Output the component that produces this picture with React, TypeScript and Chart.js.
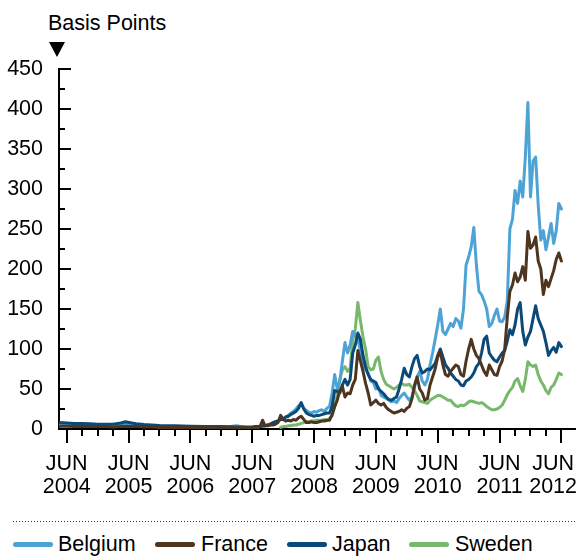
import { useEffect, useRef } from "react";
import { Chart, registerables } from "chart.js";

Chart.register(...registerables);

const FONT = '"Liberation Sans", Arial, Helvetica, sans-serif';
const FONT_SIZE = 21.5;

// Observation dates in decimal years: sparse through the quiet years, then twice a month from mid-2007.
const earlyDates = [
  2004.375, 2004.5, 2004.625, 2004.75, 2004.875, 2005.0, 2005.125, 2005.25, 2005.375, 2005.45, 2005.55,
  2005.625, 2005.75, 2005.875, 2006.0, 2006.25, 2006.5, 2006.75, 2007.0, 2007.25, 2007.4,
];
const halfMonthDates = Array.from({ length: 121 }, (_, k) => 2007.5 + k / 24);
const dates = [...earlyDates, ...halfMonthDates];

// Spreads in basis points, one value per date.
const belgium = [
  6, 6, 5.5, 5, 5, 4.5, 4.5, 4.5, 5.5, 7, 6, 5, 4.5, 4, 3.5, 3, 2.5, 2.5, 2, 4, 2,
  2, 2.5, 2, 3, 3, 4, 5, 6, 7, 9,
  10, 12, 13, 15, 17, 20, 22, 25, 29, 32,
  26, 23, 21, 20, 22, 21, 23, 24, 22, 26,
  28, 45, 68, 50, 60, 85, 108, 95, 105, 122,
  118, 112, 98, 82, 74, 70, 60, 58, 50, 52,
  42, 40, 38, 36, 34, 35, 33, 38, 42, 45,
  40, 36, 40, 52, 65, 72, 60, 55, 62, 80,
  95, 112, 130, 150, 122, 118, 125, 132, 128, 138,
  135, 126, 150, 205, 215, 228, 252, 205, 172, 168,
  160, 150, 128, 132, 142, 150, 135, 134, 140, 160,
  250, 262, 298, 282, 310, 290, 340, 408, 290, 335,
  340, 280, 236, 248, 224, 240, 257, 232, 248, 282, 275,
];

const france = [
  3.5, 3.5, 3, 3, 3, 3, 3, 2.5, 3, 3.5, 3, 3, 2.5, 2.5, 2, 2, 2, 1.5, 1.5, 1.5, 1.5,
  1.5, 2, 2, 3, 11, 4, 4, 5, 5, 6,
  8, 17, 12, 10, 11, 10, 12, 11, 14, 16,
  12, 8, 8, 9, 8, 8, 9, 10, 10, 11,
  11, 18, 28, 36, 48, 53, 40, 45, 44, 55,
  62, 98, 85, 72, 57, 45, 30, 33, 36, 32,
  30, 32, 27, 24, 22, 20, 21, 22, 24, 22,
  26, 28, 38, 55, 65, 50, 45, 36, 38, 55,
  65, 75, 90, 97, 80, 68, 66, 72, 76, 80,
  78, 68, 66, 85, 100, 112, 100, 92, 88, 80,
  72, 67, 80, 74, 68, 67, 78, 85, 100, 140,
  172, 180, 195, 184, 190, 203, 186, 247, 226, 230,
  240, 210, 200, 168, 186, 178, 188, 198, 212, 220, 210,
];

const japan = [
  8, 7.5, 7, 7, 6.5, 6, 6, 6, 7.5, 9, 7.5, 6.5, 5.5, 5, 4.5, 4, 3.5, 3, 3, 2.5, 2.5,
  2.5, 3, 3, 3, 4, 4, 5, 6, 8, 9,
  10, 12, 12, 15, 16, 18, 20, 22, 26, 33,
  25, 20, 18, 17, 16, 17, 17, 18, 19, 20,
  20, 28, 48, 47, 45, 55, 62, 55, 62, 95,
  105, 120, 112, 92, 78, 68, 62, 60, 58, 50,
  47, 44, 40, 37, 36, 38, 40, 50, 62, 76,
  68, 65, 78, 88, 92, 78, 70, 72, 75, 74,
  78, 82, 92, 100, 90, 80, 76, 70, 66, 62,
  60, 55, 54, 60, 62, 65, 70, 78, 82, 95,
  112, 116, 95, 90, 86, 84, 90, 95, 98, 110,
  124, 118, 130, 150, 158, 122, 105, 115, 122, 138,
  154, 138, 130, 122, 108, 92, 98, 102, 96, 108, 103,
];

const sweden = [
  null, null, null, null, null, null, null, null, null, null, null,
  null, null, null, null, null, null, null, null, null, null,
  null, null, null, null, null, null, null, null, null, null,
  null, 2, 3, 3, 4, 4, 5, 5, 6, 7,
  8, 9, 9, 10, 10, 11, 11, 11, 12, 11,
  13, 16, 28, 42, 62, 74, 78, 72, 76, 110,
  125, 158, 135, 115, 100, 78, 74, 75, 86, 90,
  72, 62, 56, 54, 52, 50, 52, 55, 57, 55,
  55, 56, 52, 48, 42, 35, 34, 33, 32, 36,
  38, 40, 42, 42, 40, 38, 36, 36, 32, 29,
  28, 30, 29, 31, 34, 35, 34, 33, 32, 33,
  31, 28, 26, 24, 24, 25, 27, 30, 36, 43,
  48, 52, 60, 63, 54, 47, 62, 84, 80, 78,
  80, 68, 60, 55, 48, 44, 52, 55, 62, 70, 68,
];

const seriesNames = ["Belgium", "France", "Japan", "Sweden"];
const seriesColors = ["#4ea3d6", "#4e3520", "#0b4a78", "#77b86c"];
const seriesValues = [belgium, france, japan, sweden];
// Higher number is painted first (underneath).
const seriesLayer = [2, 0, 1, 3];

const junYears = [2004, 2005, 2006, 2007, 2008, 2009, 2010, 2011, 2012];
const xMin = 2004.375;
const xMax = 2012.72;
const yMax = 450;
const yLabelStep = 50;
const yMinorStep = 25;

const W = 579;
const CANVAS_H = 510;
const PLOT_TOP = 69;
const PLOT_BOTTOM = 429;
const PLOT_LEFT = 59;

const axisMarks = {
  id: "axisMarks",
  afterDraw(chart: any) {
    const { ctx, chartArea, scales } = chart;
    const x = scales.x;
    const y = scales.y;
    ctx.save();
    ctx.strokeStyle = "#000";
    ctx.lineWidth = 2;
    ctx.lineCap = "butt";

    // value-axis ticks point into the plot
    for (let v = 0; v <= yMax; v += yMinorStep) {
      const py = Math.round(y.getPixelForValue(v));
      const len = v % yLabelStep === 0 ? 12 : 6;
      ctx.beginPath();
      ctx.moveTo(chartArea.left, py);
      ctx.lineTo(chartArea.left + len, py);
      ctx.stroke();
    }

    // quarterly time ticks hang below the axis, longer at each June
    for (let q = 0; ; q++) {
      const t = 2004.5 + q * 0.25;
      if (t > x.max) break;
      const px = Math.round(x.getPixelForValue(t));
      const len = q % 4 === 0 ? 14 : 7;
      ctx.beginPath();
      ctx.moveTo(px, chartArea.bottom);
      ctx.lineTo(px, chartArea.bottom + len);
      ctx.stroke();
    }

    ctx.fillStyle = "#000";
    ctx.font = `${FONT_SIZE}px ${FONT}`;
    ctx.textAlign = "center";
    ctx.textBaseline = "alphabetic";
    for (const yr of junYears) {
      const px = x.getPixelForValue(yr + 0.5);
      const half = Math.max(ctx.measureText("JUN").width, ctx.measureText(String(yr)).width) / 2;
      const cx = Math.min(px, chart.width - 2 - half);
      ctx.fillText("JUN", cx, chartArea.bottom + 40.5);
      ctx.fillText(String(yr), cx, chartArea.bottom + 63.5);
    }
    ctx.restore();
  },
};

export default function App() {
  const canvasRef = useRef<HTMLCanvasElement>(null);

  useEffect(() => {
    const canvas = canvasRef.current;
    if (!canvas) return;
    const chart = new Chart(canvas, {
      type: "line",
      data: {
        datasets: seriesNames.map((name, i) => ({
          label: name,
          data: dates.map((t, j) => ({ x: t, y: seriesValues[i][j] })),
          borderColor: seriesColors[i],
          backgroundColor: seriesColors[i],
          borderWidth: 3,
          pointRadius: 0,
          tension: 0,
          fill: false,
          order: seriesLayer[i],
          borderJoinStyle: "round",
          borderCapStyle: "round",
        })),
      },
      options: {
        animation: false,
        responsive: false,
        maintainAspectRatio: false,
        layout: { padding: { top: PLOT_TOP, right: W - 575, left: 0, bottom: 0 } },
        plugins: {
          legend: { display: false },
          tooltip: { enabled: false },
        },
        scales: {
          x: {
            type: "linear",
            min: xMin,
            max: xMax,
            grid: { display: true, drawOnChartArea: false, drawTicks: false, color: "rgba(0,0,0,0)" },
            border: { display: true, color: "#000", width: 2 },
            ticks: { display: false },
            afterFit: (s: any) => {
              s.height = CANVAS_H - PLOT_BOTTOM;
              s.paddingLeft = 0;
              s.paddingRight = 0;
            },
          },
          y: {
            type: "linear",
            min: 0,
            max: yMax,
            grid: { display: true, drawOnChartArea: false, drawTicks: false, color: "rgba(0,0,0,0)" },
            border: { display: true, color: "#000", width: 2 },
            ticks: {
              stepSize: yLabelStep,
              autoSkip: false,
              padding: 16,
              color: "#000",
              font: { family: FONT, size: FONT_SIZE },
            },
            afterFit: (s: any) => {
              s.width = PLOT_LEFT;
              s.paddingTop = 0;
              s.paddingBottom = 0;
            },
          },
        },
      } as any,
      plugins: [axisMarks],
    });
    return () => chart.destroy();
  }, []);

  const legendSlots = [
    { line: 13, text: 58 },
    { line: 155, text: 201 },
    { line: 287, text: 332 },
    { line: 409, text: 455 },
  ];

  return (
    <div
      style={{
        position: "absolute",
        left: 0,
        top: 0,
        width: W,
        height: 559,
        background: "#fff",
        color: "#000",
        fontFamily: FONT,
        overflow: "hidden",
      }}
    >
      <div
        style={{
          position: "absolute",
          left: 48,
          top: 13,
          fontSize: FONT_SIZE,
          lineHeight: "21px",
          whiteSpace: "nowrap",
        }}
      >
        Basis Points
      </div>
      <div
        style={{
          position: "absolute",
          left: 49,
          top: 42,
          width: 0,
          height: 0,
          borderLeft: "8.5px solid transparent",
          borderRight: "8.5px solid transparent",
          borderTop: "15px solid #000",
        }}
      />
      <canvas
        ref={canvasRef}
        width={W}
        height={CANVAS_H}
        style={{ position: "absolute", left: 0, top: 0, width: W, height: CANVAS_H }}
      />
      <div
        style={{
          position: "absolute",
          left: 13,
          top: 521,
          width: 562,
          height: 1,
          backgroundImage: "linear-gradient(to right, #333 1px, rgba(0,0,0,0) 1px)",
          backgroundSize: "3px 1px",
        }}
      />
      {seriesNames.map((name, i) => (
        <div key={name}>
          <div
            style={{
              position: "absolute",
              left: legendSlots[i].line,
              top: 541.5,
              width: 40,
              height: 5,
              borderRadius: 2.5,
              background: seriesColors[i],
            }}
          />
          <div
            style={{
              position: "absolute",
              left: legendSlots[i].text,
              top: 534,
              fontSize: FONT_SIZE,
              lineHeight: "21px",
              whiteSpace: "nowrap",
            }}
          >
            {name}
          </div>
        </div>
      ))}
    </div>
  );
}
